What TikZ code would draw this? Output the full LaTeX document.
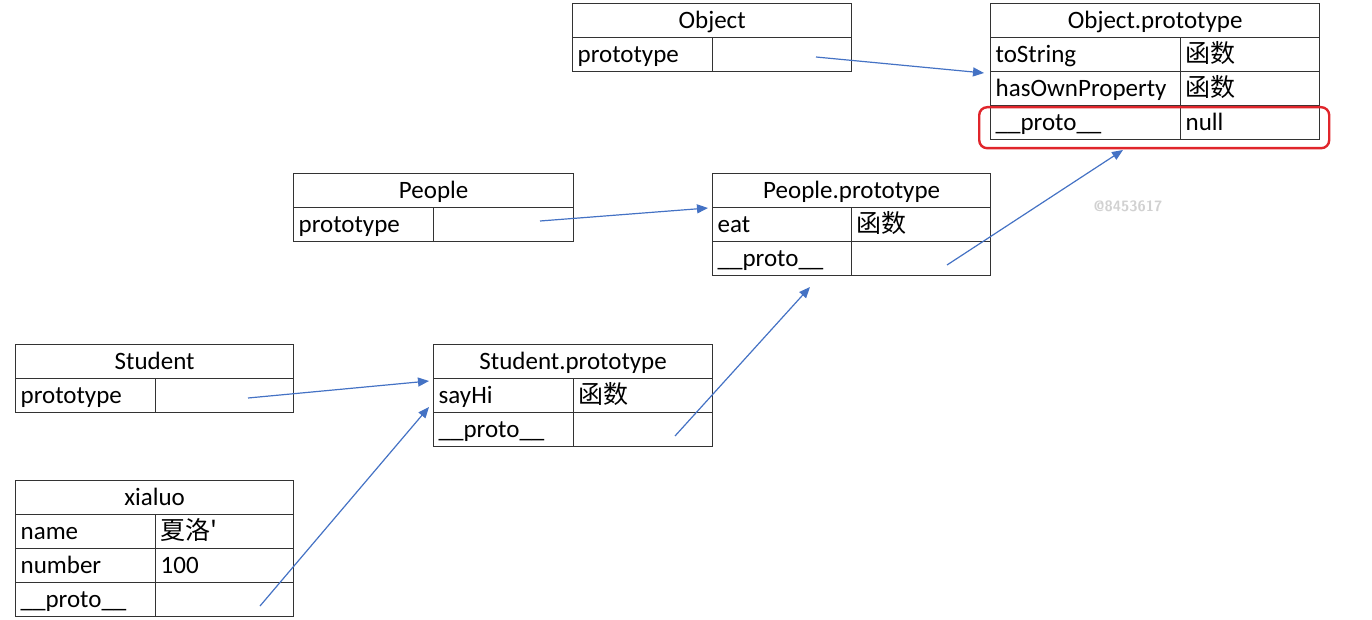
\documentclass[tikz,border=0pt]{standalone}
\usepackage{fontspec}
\setmainfont{Carlito}
\newfontfamily\cjk{Noto Sans CJK SC}
\usetikzlibrary{arrows.meta}
\definecolor{arrowblue}{HTML}{4472C4}
\definecolor{boxred}{HTML}{E0252B}
\tikzset{
  cellbase/.style={draw=black!80, line width=1.3pt, anchor=north west, minimum height=34pt, inner ysep=0pt, inner xsep=5pt, text height=17pt, text depth=1pt, font=\fontsize{25}{27}\selectfont},
  hcell/.style={cellbase, minimum width=#1, align=center},
  lcell/.style={cellbase, text width=#1-10pt, align=left},
  link/.style={draw=arrowblue, line width=1.2pt, -{Triangle[length=11pt,width=9pt]}},
}
\begin{document}
\begin{tikzpicture}[x=1pt,y=-1pt]
\useasboundingbox (0,0) rectangle (1372,620);
% Object
\node[hcell=279pt] (objH) at (572,3) {Object};
\node[lcell=140pt] (objP) at (572,37) {prototype};
\node[lcell=139pt] (objPv) at (712,37) {};
% Object.prototype
\node[hcell=329pt] (opH) at (990,3) {Object.prototype};
\node[lcell=190pt] (opT) at (990,37) {toString};
\node[lcell=139pt] (opTv) at (1180,37) {\cjk 函数};
\node[lcell=190pt] (opO) at (990,71) {hasOwnProperty};
\node[lcell=139pt] (opOv) at (1180,71) {\cjk 函数};
\node[lcell=190pt] (opP) at (990,105) {\_\_proto\_\_};
\node[lcell=139pt] (opPv) at (1180,105) {null};
\node[draw=boxred, line width=2.4pt, rounded corners=8pt, anchor=north west, minimum width=350pt, minimum height=41pt, inner sep=0pt] (redbox) at (978,106) {};
% People
\node[hcell=280pt] (peH) at (293,173) {People};
\node[lcell=140pt] (peP) at (293,207) {prototype};
\node[lcell=140pt] (pePv) at (433,207) {};
% People.prototype
\node[hcell=278pt] (ppH) at (712,173) {People.prototype};
\node[lcell=139pt] (ppE) at (712,207) {eat};
\node[lcell=139pt] (ppEv) at (851,207) {\cjk 函数};
\node[lcell=139pt] (ppP) at (712,241) {\_\_proto\_\_};
\node[lcell=139pt] (ppPv) at (851,241) {};
% Student
\node[hcell=278pt] (stH) at (15,344) {Student};
\node[lcell=140pt] (stP) at (15,378) {prototype};
\node[lcell=138pt] (stPv) at (155,378) {};
% Student.prototype
\node[hcell=279pt] (spH) at (433,344) {Student.prototype};
\node[lcell=140pt] (spS) at (433,378) {sayHi};
\node[lcell=139pt] (spSv) at (573,378) {\cjk 函数};
\node[lcell=140pt] (spP) at (433,412) {\_\_proto\_\_};
\node[lcell=139pt] (spPv) at (573,412) {};
% xialuo
\node[hcell=278pt] (xH) at (15,480) {xialuo};
\node[lcell=140pt] (xN) at (15,514) {name};
\node[lcell=138pt] (xNv) at (155,514) {\cjk 夏洛'};
\node[lcell=140pt] (xU) at (15,548) {number};
\node[lcell=138pt] (xUv) at (155,548) {100};
\node[lcell=140pt] (xP) at (15,582) {\_\_proto\_\_};
\node[lcell=138pt] (xPv) at (155,582) {};
% watermark
\node[text=black!18, font=\sffamily\bfseries\fontsize{15}{16}\selectfont] (wm) at (1128,206) {@8453617};
% connector coordinates
\coordinate (a1) at (816,57);   \coordinate (b1) at (984,73);
\coordinate (a2) at (540,221);  \coordinate (b2) at (708,208);
\coordinate (a3) at (248,398);  \coordinate (b3) at (429,381);
\coordinate (a4) at (260,606);  \coordinate (b4) at (429,407);
\coordinate (a5) at (675,436);  \coordinate (b5) at (810,287);
\coordinate (a6) at (947,265);  \coordinate (b6) at (1123,150);
\draw[link] (a1) -- (b1);
\draw[link] (a2) -- (b2);
\draw[link] (a3) -- (b3);
\draw[link] (a4) -- (b4);
\draw[link] (a5) -- (b5);
\draw[link] (a6) -- (b6);
\end{tikzpicture}
\end{document}
